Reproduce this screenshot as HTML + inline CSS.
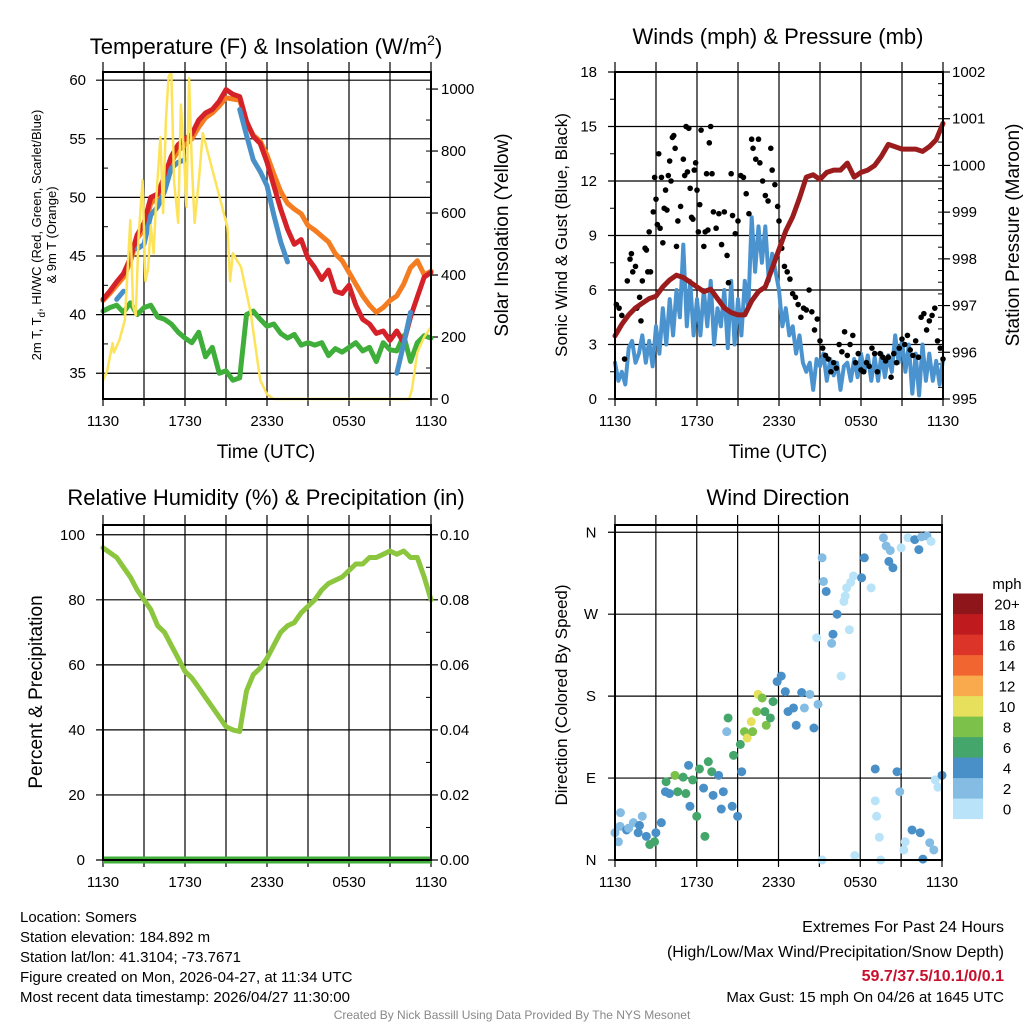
<!DOCTYPE html>
<html><head><meta charset="utf-8"><style>
body{margin:0;background:#fff;}
svg{display:block;font-family:"Liberation Sans",sans-serif;}
</style></head><body>
<svg id="s" width="1024" height="1024" viewBox="0 0 1024 1024"></svg>
<script>
// ---------- DATA ----------
const xTickLabels=["1130","1730","2330","0530","1130"];
const tempTicks=[35,40,45,50,55,60];
const solarTicks=[0,200,400,600,800,1000];
const windTicks=[0,3,6,9,12,15,18];
const presTicks=[995,996,997,998,999,1000,1001,1002];
const rhTicks=[0,20,40,60,80,100];
const precipTicks=["0.00","0.02","0.04","0.06","0.08","0.10"];
const dirLabels=["N","E","S","W","N"];
const cbLabels=["0","2","4","6","8","10","12","14","16","18","20+"];
const cbColors=["#b9e3f8","#85bce4","#4a90c8","#45a66c","#7cc24a","#e6e05c","#f8aa4c","#f06530","#dd3429","#bf1b1f","#8e1519"];
const tT=[0,0.5,1,1.5,2,2.5,3,3.5,4,4.5,5,5.5,6,6.5,7,7.5,8,8.5,9,9.5,10,10.5,11,11.5,12,12.5,13,13.5,14,14.5,15,15.5,16,16.5,17,17.5,18,18.5,19,19.5,20,20.5,21,21.5,22,22.5,23,23.5,24];
const tempRed=[41.3,42,42.8,43.5,44.8,46.8,47.8,50,50.3,51.8,53.5,54.5,55,55.4,56.6,57.2,57.5,58.2,59.2,58.8,58.6,56.5,55.2,54.6,53,51,49,47.3,46,46.4,44.8,44,43,43.8,42,41.8,42.5,40.8,39.6,39.2,38.4,38.6,37.8,38.6,37.6,39.8,41.5,43.2,43.6];
const tempOrange=[41.2,41.8,42.5,43.2,44.5,46.5,47.3,49.5,50,51.2,53,54,54.5,55,56,56.8,57.2,57.8,58.5,58.4,58.3,56.4,55.3,54.8,53.6,52,50.5,49.5,49,48.6,47.6,47.2,46.7,46.2,45.2,44.6,43.6,42.6,41.6,40.8,40.2,40.6,41.2,41.6,42.6,44,44.6,43.4,43.7];
const tempBlue=[null,null,41.3,42,null,45.6,46,48.5,49.2,50.5,52.5,53,53.2,null,null,null,null,null,null,null,57.5,55.3,53.2,52.2,51,48.5,46.2,44.5,null,null,null,null,null,null,null,null,null,null,null,null,null,null,null,35,37.5,40.2,null,null,null];
const dewGreen=[40.3,40.6,40.8,40.2,41,40,40.6,40.8,39.8,39.6,39.2,38.5,38,37.6,38.5,36.4,37.2,35,35.2,34.4,34.6,40,40.3,39.6,39,39.2,38.4,38,38.3,37.4,37.6,37.4,37.6,36.5,37.1,36.8,37.2,37.6,36.9,37.2,36,37.6,37,36.9,38.2,36,37.6,38.2,38];
const solarT=[0,0.3,0.7,0.8,1.2,1.6,2.0,2.2,2.4,2.6,2.9,3.1,3.3,3.5,3.7,3.9,4.2,4.4,4.6,4.8,5.0,5.2,5.5,5.7,5.9,6.1,6.3,6.5,6.7,7.0,7.3,8.0,8.6,9.1,9.3,9.5,10.1,10.8,11.5,12.0,12.5,16,20,22.4,22.6,23.0,23.5,24];
const solarVals=[60,90,180,150,190,255,577,300,270,520,706,380,420,560,470,650,845,600,900,1040,1055,700,568,950,810,620,1035,760,568,700,858,740,640,555,380,470,426,280,61,15,0,0,0,0,30,150,200,232];
// sonic wind, one value per 15 minutes from 1130 to 1130
const windVals=[2,1,1.5,0.8, 2.8,3.2,2,2.5, 3.5,2,3.2,1.8, 4,2.5,5,3, 5.5,3.5,6,4.5, 8.5,4,6.5,3.5, 5.5,3.5,6,4, 6.5,3,5,4, 6,2.8,6.5,3, 5.5,3.5,6.5,5, 10,7,9.5,7.5, 9.5,6.5,8,7, 6,4,5,3.5, 4,2.5,3.5,2, 1.5,2,0.5,2.2, 1.8,2.5,1,2.2, 1.3,2,0.5,1.8, 2,1,2.2,1.2, 2.5,1.5,2.4,1, 2.3,1,2.5,1.2, 2.4,1.5,3.5,2, 3.2,1.5,3,0.3, 2.5,0.2,3,1, 2.5,1,2.1,0.8, 2.2];
const presVals=[996.35,996.6,996.8,996.95,997.05,997.15,997.2,997.4,997.55,997.65,997.6,997.5,997.4,997.3,997.35,997.15,996.95,996.85,996.8,996.8,997.1,997.3,997.4,997.8,998.2,998.6,998.9,999.3,999.75,999.8,999.7,999.85,999.9,999.9,1000.05,999.75,999.85,999.9,1000,1000.2,1000.45,1000.4,1000.35,1000.35,1000.35,1000.3,1000.4,1000.55,1000.9];
const rhVals=[96,94.5,93,90,87,83,80,77,72,70,66,62,58,56,53,50,47,44,41,40,39.5,52,57,59,62,66,70,72,73,76,78,80,83,85,86,87,89,91,91,93,93,94,95,94,95,93,93,87,80];
const gustT=[0.1,0.3,0.5,0.7,0.9,1.1,1.2,1.3,1.5,1.6,1.8,1.9,2.0,2.2,2.3,2.4,2.5,2.6,2.8,2.9,3.0,3.1,3.2,3.3,3.4,3.5,3.6,3.7,3.8,3.9,4.0,4.1,4.2,4.3,4.4,4.5,4.6,4.8,5.0,5.1,5.2,5.3,5.4,5.5,5.6,5.7,5.8,5.9,6.0,6.1,6.2,6.3,6.5,6.6,6.7,6.8,6.9,7.0,7.1,7.2,7.4,7.6,7.8,8.0,8.2,8.3,8.5,8.6,8.8,9.0,9.2,9.4,9.6,9.8,10.0,10.1,10.3,10.5,10.6,10.8,11.0,11.2,11.4,11.5,11.7,11.9,12.0,12.2,12.4,12.6,12.8,13.0,13.2,13.4,13.6,13.8,14.0,14.2,14.4,14.6,14.8,15.0,15.2,15.4,15.6,15.8,16.0,16.2,16.4,16.6,16.8,17.0,17.2,17.4,17.6,17.8,18.0,18.2,18.4,18.6,18.8,19.0,19.2,19.4,19.6,19.8,20.0,20.2,20.4,20.6,20.8,21.0,21.2,21.4,21.6,21.8,22.0,22.2,22.4,22.6,22.8,23.0,23.2,23.4,23.6,23.8,24.0];
const gustVals=[5.2,5,4.6,2.2,6.5,7.7,8,7,7.3,5,5.6,4.3,6.5,8.3,8.2,7,9.2,7,10.3,12.2,11,9.6,13.5,9.4,12.2,8.6,10.5,11.5,10.4,12.3,13.1,12,14.4,14.5,13.8,8.4,9.8,10.6,13.2,12.3,15,12.5,14.9,11.6,10,9.9,12.6,13,11.5,9.2,10.7,14.8,8.4,9.2,12.4,9.3,14.1,15,12.4,10.3,9.4,10.2,8.5,10.3,7.9,6.4,12.4,10.1,9.1,9.8,12.3,12.2,11.3,10.2,14.3,13.8,13.2,14.3,13,12,11.2,10.9,13.8,12.6,11.8,10.6,9.8,8.3,7.3,7,6.6,5.8,5.6,5.2,4.5,5,4.9,6,4.8,3.8,4.4,3.2,2.8,2.4,2.2,1.5,2,1.7,3,2.6,3.7,2.4,3,3.5,2,2.5,1.6,1.5,2,1.8,2.8,2.5,1.5,2.5,2.3,2.1,2.3,1.2,2.5,2.0,2.8,3.3,3.0,3.5,2.7,2.4,3.2,2.3,4.5,4.7,3.8,4.3,4.6,5,3.2,2.8,2.2,3.1,2,3];
const dirT=[0.0,0.25,0.37,0.4,0.85,1.35,1.7,2.0,2.3,2.55,2.9,3.4,3.7,3.75,4.0,4.4,4.6,5.0,5.2,5.4,5.5,5.7,6.0,6.2,6.5,6.6,6.85,7.1,7.2,7.6,7.8,7.95,8.3,8.2,8.6,8.7,9.0,9.3,9.2,9.5,9.7,10.0,10.1,10.4,10.5,10.8,11.0,11.1,11.4,11.6,11.9,12.2,12.5,12.7,13.1,13.3,13.7,13.9,14.3,14.6,14.9,14.8,15.2,15.3,15.5,15.9,16.0,16.3,16.6,16.8,17.0,17.2,17.5,18.1,18.3,18.8,19.1,19.1,19.2,19.4,19.5,19.7,20.1,20.4,20.7,20.9,21.0,21.3,21.5,21.8,22.0,22.3,22.4,22.6,22.9,23.1,23.2,23.5,23.7,24.0,15.2,17.6,21.2,23.4,1.0,1.8,3.0,19.9,20.2,22.5,16.9,17.3];
const dirVals=[30,20,37,52,33,41,30,48,26,17,20,41,75,86,73,93,75,91,73,104,59,88,48,100,79,26,108,97,71,93,56,75,156,141,59,115,48,97,127,141,134,152,141,163,182,178,163,148,156,174,196,202,185,163,167,148,184,167,182,145,171,244,332,306,295,238,248,270,202,284,299,253,312,310,332,299,100,65,48,25,0,354,328,321,97,75,343,20,354,33,352,341,30,1,356,19,350,88,80,93,0,5,11,11,35,38,30,345,340,355,290,305];
const dirSpeed=[2,2,2,2,4,2,4,2,4,6,6,4,4,6,4,8,6,6,6,4,4,6,6,6,4,6,6,6,4,4,4,4,6,2,4,6,4,4,6,8,10,10,8,8,10,8,6,8,6,6,4,4,4,4,4,4,4,2,2,4,2,0,2,2,4,2,4,4,0,0,0,0,0,4,4,0,4,0,0,0,0,2,4,4,4,2,0,0,0,4,4,4,4,4,2,2,0,0,0,4,0,0,0,2,2,4,4,2,2,2,0,0];

// ---------- HELPERS ----------
const S=document.getElementById('s');
const NS='http://www.w3.org/2000/svg';
function mk(tag,attrs,parent){const e=document.createElementNS(NS,tag);for(const k in attrs)e.setAttribute(k,attrs[k]);(parent||S).appendChild(e);return e;}
function txt(x,y,s,size,anchor,extra){const e=mk('text',Object.assign({x:x,y:y,'font-size':size,'text-anchor':anchor||'middle',fill:'#000'},extra||{}));e.textContent=s;return e;}
function colorFor(sp){let i=Math.min(10,Math.max(0,Math.floor(sp/2)));return cbColors[i];}

const P1={L:103,R:431,T:72,B:399};
const P2={L:615,R:943,T:72,B:399};
const P3={L:103,R:431,T:525,B:860};
const P4={L:615,R:942,T:525,B:860};
function xs(P){return t=>P.L+t*(P.R-P.L)/24;}
function ys(P,lo,hi){return v=>P.B-(v-lo)/(hi-lo)*(P.B-P.T);}

function frame(P,name){
  const g=mk('g',{});
  
  
  const x=xs(P);
  for(let h=0;h<=24;h+=3){mk('line',{x1:x(h),x2:x(h),y1:P.T-10,y2:P.B+7,stroke:'#000','stroke-width':1.2},g);}
  xTickLabels.forEach((l,i)=>{const e=txt(x(i*6),P.B+27,l,15);});
  return g;
}
function hgrid(P,vals,yf,g){vals.forEach(v=>mk('line',{x1:P.L-7,x2:P.R,y1:yf(v),y2:yf(v),stroke:'#000','stroke-width':1.2},g));}
function border(P){mk('rect',{x:P.L,y:P.T,width:P.R-P.L,height:P.B-P.T,fill:'none',stroke:'#000','stroke-width':2});}
function path(ts,vs,xf,yf,color,w,name){
  let d='',pen=false;
  for(let i=0;i<vs.length;i++){const v=vs[i];if(v===null||v===undefined){pen=false;continue;}d+=(pen?'L':'M')+xf(ts[i]).toFixed(1)+' '+yf(v).toFixed(1)+' ';pen=true;}
  const e=mk('path',{d:d,fill:'none',stroke:color,'stroke-width':w,'stroke-linejoin':'round','stroke-linecap':'round'});
  
  
  return e;
}
function rightTicks(P,vals,yf,step,lo,hi){
  for(let v=lo;v<=hi+1e-9;v+=step){mk('line',{x1:P.R,x2:P.R-5,y1:yf(v),y2:yf(v),stroke:'#000','stroke-width':1});}
  vals.forEach(v=>mk('line',{x1:P.R,x2:P.R+7,y1:yf(v),y2:yf(v),stroke:'#000','stroke-width':1.2}));
}

// ---------- PANEL 1 ----------
{
  const P=P1,x=xs(P),y=ys(P,32.8,60.7),ys2=ys(P,0,1055);
  const g=frame(P,'temperature-panel');
  hgrid(P,tempTicks,y,g);
  rightTicks(P,solarTicks,ys2,100,0,1000);
  for(let v=37.5;v<60;v+=5)mk('line',{x1:P.L,x2:P.L+5,y1:y(v),y2:y(v),stroke:'#000'});
  tempTicks.forEach(v=>{const e=txt(86,y(v)+5,String(v),15,'end');});
  solarTicks.forEach(v=>{const e=txt(441,ys2(v)+5,String(v),15,'start');});
  path(tT,dewGreen,x,y,'#3fae3a',5,'dewpoint-line');
  path(tT,tempOrange,x,y,'#f47d22',5,'temp-9m-line');
  path(tT,tempRed,x,y,'#d52128',5,'temp-2m-line');
  path(tT,tempBlue,x,y,'#4a90c8',5,'heat-index-windchill-line');
  path(solarT,solarVals,x,ys2,'#fde35a',2.5,'solar-insolation-line');
  border(P);
  let e=mk('text',{x:266,y:54,'font-size':22,'text-anchor':'middle'});
  e.innerHTML='Temperature (F) &amp; Insolation (W/m<tspan dy="-9" font-size="14">2</tspan><tspan dy="9">)</tspan>';
  
  e=txt(266,458,'Time (UTC)',19);
  e=txt(0,0,'Solar Insolation (Yellow)',19,'middle',{transform:'translate(508 235) rotate(-90)'});
  e=mk('text',{'font-size':13,'text-anchor':'middle',transform:'translate(41 235) rotate(-90)'});
  e.innerHTML='2m T, T<tspan dy="4" font-size="10">d</tspan><tspan dy="-4">, HI/WC (Red, Green, Scarlet/Blue)</tspan>';
  
  e=txt(0,0,'& 9m T (Orange)',13,'middle',{transform:'translate(56 235) rotate(-90)'});
}
// ---------- PANEL 2 ----------
{
  const P=P2,x=xs(P),y=ys(P,0,18),yp=ys(P,995,1002);
  const g=frame(P,'wind-panel');
  hgrid(P,windTicks,y,g);
  rightTicks(P,presTicks,yp,0.25,995,1002);
  for(let v=1.5;v<18;v+=3)mk('line',{x1:P.L,x2:P.L-5,y1:y(v),y2:y(v),stroke:'#000'});
  windTicks.forEach(v=>{const e=txt(597,y(v)+5,String(v),15,'end');});
  presTicks.forEach(v=>{const e=txt(952,yp(v)+5,String(v),15,'start');});
  const windT=windVals.map((v,i)=>i*0.25);
  path(windT,windVals,x,y,'#4a93cf',4,'wind-speed-line');
  const gg=mk('g',{});
  
  gustT.forEach((t,i)=>{const c=mk('circle',{cx:x(t),cy:y(gustVals[i]),r:2.8,fill:'#000'},gg);});
  path(tT,presVals,x,yp,'#9b1c1c',5,'pressure-line');
  border(P);
  let e=txt(778,44,'Winds (mph) & Pressure (mb)',22);
  e=txt(778,458,'Time (UTC)',19);
  e=txt(0,0,'Sonic Wind & Gust (Blue, Black)',17,'middle',{transform:'translate(567 235) rotate(-90)'});
  e=txt(0,0,'Station Pressure (Maroon)',19,'middle',{transform:'translate(1019 235) rotate(-90)'});
}
// ---------- PANEL 3 ----------
{
  const P=P3,x=xs(P),y=ys(P,0,103);
  const g=frame(P,'humidity-panel');
  hgrid(P,rhTicks,y,g);
  rightTicks(P,rhTicks,y,10,0,100);
  rhTicks.forEach((v,i)=>{let e=txt(85,y(v)+5,String(v),15,'end');
    e=txt(440,y(v)+5,precipTicks[i],15,'start');});
  let e=mk('line',{x1:P.L,x2:P.R,y1:y(0),y2:y(0),stroke:'#3fae3a','stroke-width':7});
  path(tT,rhVals,x,y,'#8cc63f',5,'rh-line');
  border(P);
  e=txt(266,505,'Relative Humidity (%) & Precipitation (in)',22);
  e=txt(0,0,'Percent & Precipitation',19,'middle',{transform:'translate(42 692) rotate(-90)'});
}
// ---------- PANEL 4 ----------
{
  const P=P4,x=xs(P),y=ys(P,0,368);
  const g=frame(P,'direction-panel');
  hgrid(P,[0,90,180,270,360],y,g);
  dirLabels.forEach((l,i)=>{const e=txt(591,y(i*90)+5,l,15,'middle');});
  const gg=mk('g',{});
  
  dirT.forEach((t,i)=>{const c=mk('circle',{cx:x(t),cy:y(dirVals[i]),r:4.5,fill:colorFor(dirSpeed[i])},gg);});
  border(P);
  let e=txt(778,505,'Wind Direction',22);
  e=txt(0,0,'Direction (Colored By Speed)',17,'middle',{transform:'translate(567 695) rotate(-90)'});
  const cb=mk('g',{});
  
  cbColors.forEach((c,i)=>{const yy=819-(i+1)*20.5;mk('rect',{x:953,y:yy,width:30,height:20.6,fill:c},cb);
    const t=txt(1007,yy+16,cbLabels[i],15,'middle');});
  e=txt(1007,589,'mph',15,'middle');
}
// ---------- FOOTER ----------
{
  const left=['Location: Somers','Station elevation: 184.892 m','Station lat/lon: 41.3104; -73.7671','Figure created on Mon, 2026-04-27, at 11:34 UTC','Most recent data timestamp: 2026/04/27 11:30:00'];
  left.forEach((s,i)=>{const e=txt(20,922+i*20,s,15,'start');});
  let e=txt(1004,932,'Extremes For Past 24 Hours',16,'end');
  e=txt(1004,957,'(High/Low/Max Wind/Precipitation/Snow Depth)',16,'end');
  e=txt(1004,981,'59.7/37.5/10.1/0/0.1',16,'end',{fill:'#c8102e','font-weight':'bold'});
  e=txt(1004,1002,'Max Gust: 15 mph On 04/26 at 1645 UTC',15,'end');
  e=txt(512,1019,'Created By Nick Bassill Using Data Provided By The NYS Mesonet',12,'middle',{fill:'#888'});
}
</script>
</body></html>
